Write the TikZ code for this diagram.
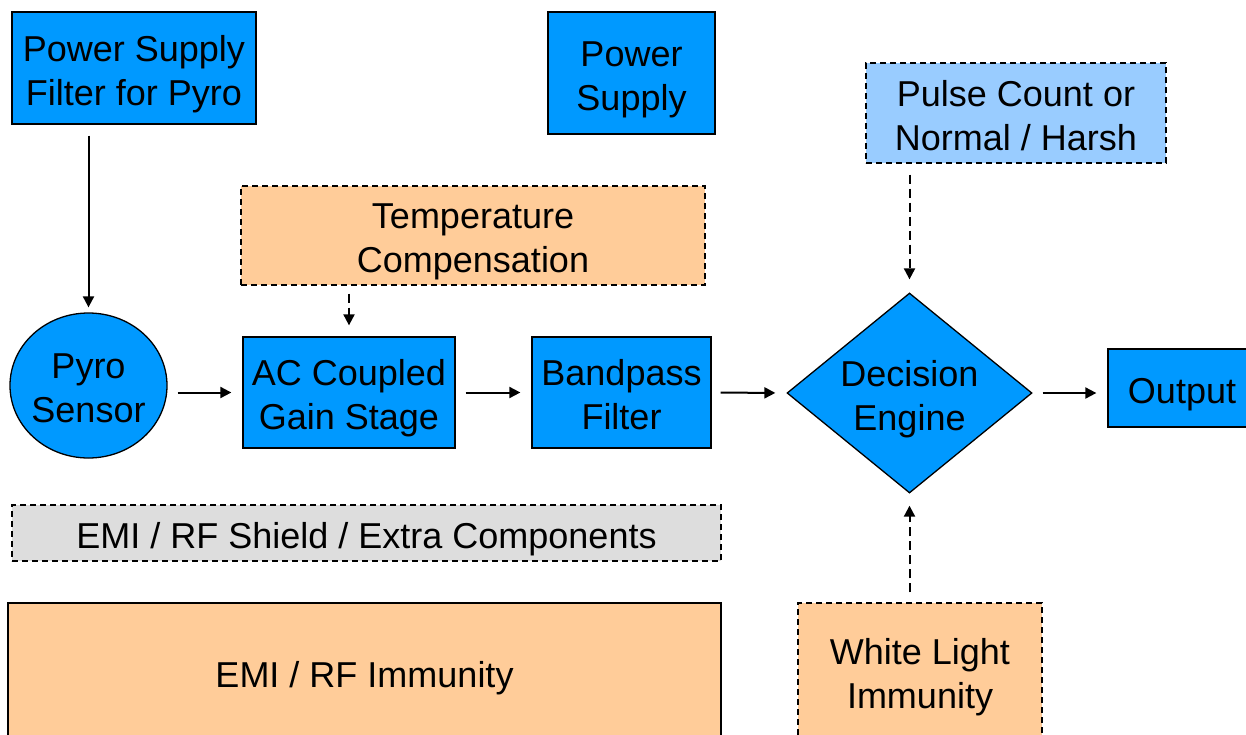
\documentclass[tikz,border=0pt]{standalone}
\usepackage{fontspec}
\setmainfont{Liberation Sans}
\usetikzlibrary{shapes.geometric,arrows.meta}
\definecolor{cblue}{RGB}{0,153,255}
\definecolor{clblue}{RGB}{153,204,255}
\definecolor{corange}{RGB}{255,204,153}
\definecolor{cgray}{RGB}{221,221,221}
\newcommand\diagfont{\fontsize{36}{44}\selectfont}
\begin{document}
\begin{tikzpicture}[x=1pt,y=-1pt,
 txt/.style={align=center,font=\diagfont},
 one/.style={text height=30pt,text depth=0pt},
 two/.style={text height=74pt,text depth=0pt},
 base/.style={draw=black,line width=1.3pt,inner sep=0pt,txt},
 bluebox/.style={base,rectangle,fill=cblue},
 dbox/.style={base,rectangle,dash pattern=on 6pt off 4pt},
 arr/.style={line width=2pt,-{Triangle[length=11pt,width=11pt]}},
 darr/.style={arr,dash pattern=on 9pt off 5pt}]
\useasboundingbox (0,0) rectangle (1246,734);
\clip (0,0) rectangle (1246,734);
\node[bluebox,two,minimum width=244pt,minimum height=112pt] (psf) at (134,68) {Power Supply\\Filter for Pyro};
\node[bluebox,two,minimum width=167pt,minimum height=122pt] (ps) at (631.5,73) {Power\\Supply};
\node[dbox,two,fill=clblue,minimum width=300pt,minimum height=100pt] (pulse) at (1016,113) {Pulse Count or\\Normal / Harsh};
\node[dbox,two,fill=corange,minimum width=464pt,minimum height=99pt] (temp) at (473,235.5) {Temperature\\Compensation};
\node[base,ellipse,fill=cblue,minimum width=157pt,minimum height=145pt,label={[txt,two,inner sep=0pt]center:Pyro\\Sensor}] (pyro) at (88.5,385.5) {};
\node[bluebox,two,minimum width=212pt,minimum height=111pt] (ac) at (349,392.5) {AC Coupled\\Gain Stage};
\node[bluebox,two,minimum width=179pt,minimum height=111pt] (bp) at (621.5,392.5) {Bandpass\\Filter};
\node[base,two,diamond,fill=cblue,minimum width=245pt,minimum height=200pt,aspect=1.22] (de) at (909.5,393) {Decision\\Engine};
\node[bluebox,one,minimum width=148pt,minimum height=78pt] (out) at (1182,388) {Output};
\node[dbox,one,fill=cgray,minimum width=709pt,minimum height=56pt] (shield) at (366.5,533) {EMI / RF Shield / Extra Components};
\node[base,one,rectangle,fill=corange,minimum width=713pt,minimum height=138pt] (emi) at (364.5,672) {EMI / RF Immunity};
\node[dbox,two,fill=corange,minimum width=244pt,minimum height=136pt] (wl) at (920,671) {White Light\\Immunity};
\draw[arr,shorten <=11pt,shorten >=5pt] (psf.south -| pyro.north) -- (pyro.north);
\draw[arr,shorten <=10pt,shorten >=11pt] (ac.west -| pyro.east) -- (ac.west);
\draw[arr,shorten <=10pt,shorten >=11pt] (ac.east) -- (bp.west);
\draw[arr,shorten <=9pt,shorten >=11pt] (bp.east) -- (de.west);
\draw[arr,shorten <=10pt,shorten >=11pt] (de.east) -- (de.east -| out.west);
\draw[darr,shorten <=8pt,shorten >=11pt] (temp.south -| ac.north) -- (ac.north);
\draw[darr,shorten <=11pt,shorten >=13pt] (pulse.south -| de.north) -- (de.north);
\draw[darr,shorten <=10pt,shorten >=12pt] (wl.north -| de.south) -- (de.south);
\end{tikzpicture}
\end{document}
